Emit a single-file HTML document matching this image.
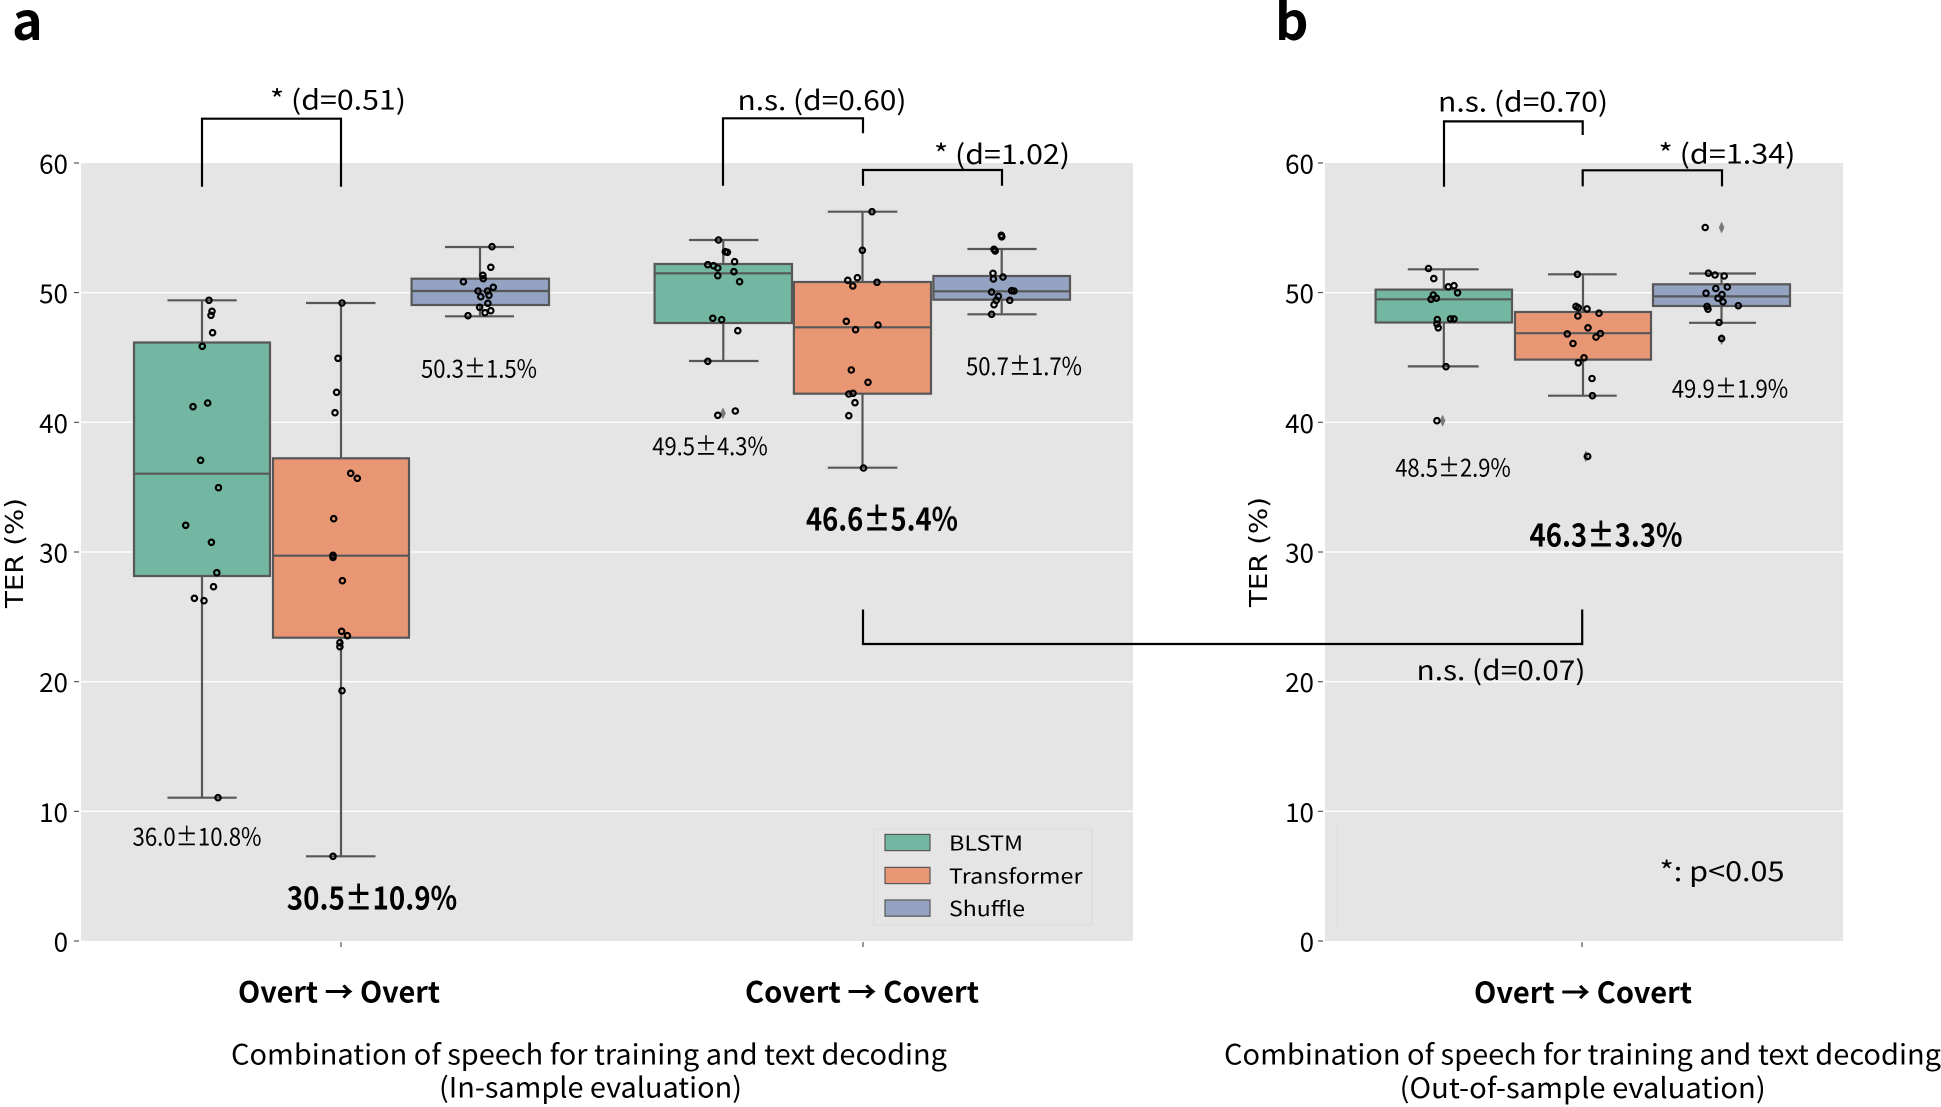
<!DOCTYPE html>
<html><head><meta charset="utf-8"><style>
html,body{margin:0;padding:0;background:#fff;}
svg{display:block;}
text{font-family:"Noto Sans CJK JP","Liberation Sans",sans-serif;fill:#000;}
.b{font-weight:700;}
</style></head><body>
<svg width="1941" height="1107" viewBox="0 0 1941 1107" xmlns="http://www.w3.org/2000/svg">
<!-- panel backgrounds -->
<rect x="81" y="163" width="1052" height="778" fill="#e5e5e5"/>
<rect x="1325" y="163" width="518" height="778" fill="#e5e5e5"/>
<!-- grid -->
<g stroke="#ffffff" stroke-width="1.3">
<line x1="81" x2="1133" y1="292.6" y2="292.6"/><line x1="81" x2="1133" y1="422.3" y2="422.3"/>
<line x1="81" x2="1133" y1="552" y2="552"/><line x1="81" x2="1133" y1="681.7" y2="681.7"/>
<line x1="81" x2="1133" y1="811.3" y2="811.3"/>
<line x1="1325" x2="1843" y1="292.6" y2="292.6"/><line x1="1325" x2="1843" y1="422.3" y2="422.3"/>
<line x1="1325" x2="1843" y1="552" y2="552"/><line x1="1325" x2="1843" y1="681.7" y2="681.7"/>
<line x1="1325" x2="1843" y1="811.3" y2="811.3"/>
</g>
<!-- ticks -->
<g stroke="#333" stroke-width="1">
<line x1="74" x2="79" y1="163" y2="163"/><line x1="74" x2="79" y1="292.6" y2="292.6"/><line x1="74" x2="79" y1="422.3" y2="422.3"/>
<line x1="74" x2="79" y1="552" y2="552"/><line x1="74" x2="79" y1="681.7" y2="681.7"/><line x1="74" x2="79" y1="811.3" y2="811.3"/><line x1="74" x2="79" y1="941" y2="941"/>
<line x1="1318" x2="1323" y1="163" y2="163"/><line x1="1318" x2="1323" y1="292.6" y2="292.6"/><line x1="1318" x2="1323" y1="422.3" y2="422.3"/>
<line x1="1318" x2="1323" y1="552" y2="552"/><line x1="1318" x2="1323" y1="681.7" y2="681.7"/><line x1="1318" x2="1323" y1="811.3" y2="811.3"/><line x1="1318" x2="1323" y1="941" y2="941"/>
<line x1="341" x2="341" y1="942" y2="947"/><line x1="863" x2="863" y1="942" y2="947"/><line x1="1582" x2="1582" y1="942" y2="947"/>
</g>
<g font-size="26" text-anchor="end">
<text x="68" y="173.5">60</text><text x="68" y="303">50</text><text x="68" y="432.8">40</text><text x="68" y="562.5">30</text><text x="68" y="692.2">20</text><text x="68" y="821.8">10</text><text x="68" y="951.5">0</text>
<text x="1314" y="173.5">60</text><text x="1314" y="303">50</text><text x="1314" y="432.8">40</text><text x="1314" y="562.5">30</text><text x="1314" y="692.2">20</text><text x="1314" y="821.8">10</text><text x="1314" y="951.5">0</text>
</g>
<!-- y labels -->
<text transform="translate(23,553) rotate(-90)" text-anchor="middle" font-size="25" textLength="110" lengthAdjust="spacingAndGlyphs" style="font-family:'DejaVu Sans',sans-serif">TER (%)</text>
<text transform="translate(1267,552) rotate(-90)" text-anchor="middle" font-size="25" textLength="110" lengthAdjust="spacingAndGlyphs" style="font-family:'DejaVu Sans',sans-serif">TER (%)</text>

<!-- boxes -->
<g stroke="#575757" stroke-width="2.2">
<line x1="202" x2="202" y1="300.3" y2="342.5"/><line x1="202" x2="202" y1="576" y2="797.7"/>
<line x1="167.5" x2="236.7" y1="300.3" y2="300.3"/><line x1="167.5" x2="236.7" y1="797.7" y2="797.7"/>
<rect x="134" y="342.5" width="136" height="233.5" fill="#73b6a1"/><line x1="134" x2="270" y1="473.7" y2="473.7"/>
<line x1="341" x2="341" y1="303" y2="458.3"/><line x1="341" x2="341" y1="637.7" y2="856.3"/>
<line x1="306" x2="375.5" y1="303" y2="303"/><line x1="306" x2="375.5" y1="856.3" y2="856.3"/>
<rect x="273" y="458.3" width="136" height="179.4" fill="#e99675"/><line x1="273" x2="409" y1="555.7" y2="555.7"/>
<line x1="480" x2="480" y1="247" y2="278.7"/><line x1="480" x2="480" y1="305" y2="316.3"/>
<line x1="445" x2="514" y1="247" y2="247"/><line x1="445" x2="514" y1="316.3" y2="316.3"/>
<rect x="411.6" y="278.7" width="137.4" height="26.3" fill="#95a3c3"/><line x1="411.6" x2="549" y1="291" y2="291"/>
<line x1="723.3" x2="723.3" y1="240" y2="264"/><line x1="723.3" x2="723.3" y1="323" y2="361"/>
<line x1="689" x2="758.5" y1="240" y2="240"/><line x1="689" x2="758.5" y1="361" y2="361"/>
<rect x="654.6" y="264" width="137.4" height="59" fill="#73b6a1"/><line x1="654.6" x2="792" y1="273.3" y2="273.3"/>
<line x1="862.5" x2="862.5" y1="211.7" y2="282"/><line x1="862.5" x2="862.5" y1="393.7" y2="467.7"/>
<line x1="827.8" x2="897.4" y1="211.7" y2="211.7"/><line x1="827.8" x2="897.4" y1="467.7" y2="467.7"/>
<rect x="793.9" y="282" width="137.1" height="111.7" fill="#e99675"/><line x1="793.9" x2="931" y1="327.3" y2="327.3"/>
<line x1="1001.7" x2="1001.7" y1="249" y2="276"/><line x1="1001.7" x2="1001.7" y1="299.7" y2="314.3"/>
<line x1="967.4" x2="1036.6" y1="249" y2="249"/><line x1="967.4" x2="1036.6" y1="314.3" y2="314.3"/>
<rect x="933.4" y="276" width="136.6" height="23.7" fill="#95a3c3"/><line x1="933.4" x2="1070" y1="291.3" y2="291.3"/>
<line x1="1443.8" x2="1443.8" y1="269.3" y2="289.6"/><line x1="1443.8" x2="1443.8" y1="322.5" y2="366.4"/>
<line x1="1407.8" x2="1478.7" y1="269.3" y2="269.3"/><line x1="1407.8" x2="1478.7" y1="366.4" y2="366.4"/>
<rect x="1375.6" y="289.6" width="136.4" height="32.9" fill="#73b6a1"/><line x1="1375.6" x2="1512" y1="299.3" y2="299.3"/>
<line x1="1583" x2="1583" y1="274.3" y2="312"/><line x1="1583" x2="1583" y1="359.6" y2="395.7"/>
<line x1="1548" x2="1616.7" y1="274.3" y2="274.3"/><line x1="1548" x2="1616.7" y1="395.7" y2="395.7"/>
<rect x="1515" y="312" width="136" height="47.6" fill="#e99675"/><line x1="1515" x2="1651" y1="333.2" y2="333.2"/>
<line x1="1721.5" x2="1721.5" y1="273.5" y2="284.3"/><line x1="1721.5" x2="1721.5" y1="306" y2="322.8"/>
<line x1="1689" x2="1756" y1="273.5" y2="273.5"/><line x1="1689" x2="1756" y1="322.8" y2="322.8"/>
<rect x="1653" y="284.3" width="137" height="21.7" fill="#95a3c3"/><line x1="1653" x2="1790" y1="296.4" y2="296.4"/>
</g>
<!-- outlier diamonds -->
<g fill="#7a7a7a">
<path d="M723,407.3 L725.8,413.3 L723,419.3 L720.2,413.3Z"/>
<path d="M1442.6,414.7 L1445.4,420.7 L1442.6,426.7 L1439.8,420.7Z"/>
<path d="M1585.8,450.4 L1588.6,456.4 L1585.8,462.4 L1583,456.4Z"/>
<path d="M1721.6,221.5 L1724.4,227.5 L1721.6,233.5 L1718.8,227.5Z"/>
<path d="M1721.6,333.2 L1724.4,339.2 L1721.6,345.2 L1718.8,339.2Z"/>
</g>
<!-- points -->
<g fill="none" stroke="#000" stroke-width="2.2">
<circle cx="209" cy="300.3" r="2.7"/><circle cx="212" cy="311.3" r="2.7"/><circle cx="211" cy="315.3" r="2.7"/><circle cx="212.6" cy="332.7" r="2.7"/><circle cx="202.3" cy="346.3" r="2.7"/><circle cx="193" cy="406.7" r="2.7"/><circle cx="207.7" cy="403" r="2.7"/><circle cx="200.6" cy="460.3" r="2.7"/><circle cx="218.5" cy="487.7" r="2.7"/><circle cx="185.7" cy="525.3" r="2.7"/><circle cx="211.4" cy="542.3" r="2.7"/><circle cx="216.8" cy="572.7" r="2.7"/><circle cx="213.5" cy="586.7" r="2.7"/><circle cx="194.4" cy="598.3" r="2.7"/><circle cx="204" cy="600.7" r="2.7"/><circle cx="218" cy="797.7" r="2.7"/>
<circle cx="342" cy="303" r="2.7"/><circle cx="338" cy="358.3" r="2.7"/><circle cx="336.6" cy="392.3" r="2.7"/><circle cx="335" cy="412.7" r="2.7"/><circle cx="350.7" cy="473.3" r="2.7"/><circle cx="357.3" cy="478.3" r="2.7"/><circle cx="333.7" cy="518.7" r="2.7"/><circle cx="333" cy="555.3" r="2.7"/><circle cx="333" cy="557.5" r="2.7"/><circle cx="342.4" cy="580.7" r="2.7"/><circle cx="341.6" cy="631.3" r="2.7"/><circle cx="347.4" cy="635.7" r="2.7"/><circle cx="339.9" cy="642.7" r="2.7"/><circle cx="339.9" cy="646.7" r="2.7"/><circle cx="342" cy="690.7" r="2.7"/><circle cx="333" cy="856.3" r="2.7"/>
<circle cx="492" cy="246.7" r="2.7"/><circle cx="490.8" cy="267.3" r="2.7"/><circle cx="482.9" cy="275.3" r="2.7"/><circle cx="483.3" cy="278.7" r="2.7"/><circle cx="463.4" cy="281.7" r="2.7"/><circle cx="493.3" cy="287.3" r="2.7"/><circle cx="478" cy="291" r="2.7"/><circle cx="487.5" cy="291" r="2.7"/><circle cx="489" cy="295.3" r="2.7"/><circle cx="480.8" cy="296.7" r="2.7"/><circle cx="487.9" cy="303.3" r="2.7"/><circle cx="479.6" cy="307.3" r="2.7"/><circle cx="490.8" cy="310.7" r="2.7"/><circle cx="485" cy="312.7" r="2.7"/><circle cx="468" cy="315.7" r="2.7"/>
<circle cx="718.5" cy="240" r="2.7"/><circle cx="725.3" cy="251.7" r="2.7"/><circle cx="727.4" cy="252.3" r="2.7"/><circle cx="734.6" cy="261.7" r="2.7"/><circle cx="707.8" cy="264.7" r="2.7"/><circle cx="713.5" cy="265.7" r="2.7"/><circle cx="717.8" cy="268" r="2.7"/><circle cx="733.9" cy="271.7" r="2.7"/><circle cx="717.8" cy="275.7" r="2.7"/><circle cx="739.6" cy="281.7" r="2.7"/><circle cx="712.8" cy="318.3" r="2.7"/><circle cx="721.7" cy="319.7" r="2.7"/><circle cx="737.8" cy="330.7" r="2.7"/><circle cx="707.8" cy="361.3" r="2.7"/><circle cx="717.8" cy="415.3" r="2.7"/><circle cx="735.3" cy="411" r="2.7"/>
<circle cx="872" cy="211.7" r="2.7"/><circle cx="862.4" cy="250.3" r="2.7"/><circle cx="847.8" cy="280.3" r="2.7"/><circle cx="857.4" cy="277.7" r="2.7"/><circle cx="852.8" cy="286" r="2.7"/><circle cx="877" cy="282.3" r="2.7"/><circle cx="846.3" cy="321.3" r="2.7"/><circle cx="878" cy="325" r="2.7"/><circle cx="855.6" cy="329.7" r="2.7"/><circle cx="851.3" cy="370" r="2.7"/><circle cx="868" cy="382.3" r="2.7"/><circle cx="848.8" cy="394" r="2.7"/><circle cx="853" cy="393.3" r="2.7"/><circle cx="855" cy="402.7" r="2.7"/><circle cx="848.8" cy="415.7" r="2.7"/><circle cx="863.5" cy="468" r="2.7"/>
<circle cx="1001.3" cy="235.3" r="2.7"/><circle cx="1001.8" cy="236.8" r="2.7"/><circle cx="994" cy="249.3" r="2.7"/><circle cx="995.2" cy="251" r="2.7"/><circle cx="993" cy="273.3" r="2.7"/><circle cx="1003" cy="277" r="2.7"/><circle cx="993.4" cy="279" r="2.7"/><circle cx="1011.6" cy="290.7" r="2.7"/><circle cx="1014" cy="291" r="2.7"/><circle cx="991.6" cy="292" r="2.7"/><circle cx="998.4" cy="296.3" r="2.7"/><circle cx="1009.8" cy="300.3" r="2.7"/><circle cx="996.3" cy="300.3" r="2.7"/><circle cx="994" cy="304.7" r="2.7"/><circle cx="991.6" cy="314.3" r="2.7"/>
<circle cx="1428.5" cy="268.5" r="2.7"/><circle cx="1433.8" cy="278.6" r="2.7"/><circle cx="1448.3" cy="286.8" r="2.7"/><circle cx="1454" cy="285.7" r="2.7"/><circle cx="1457.6" cy="292.8" r="2.7"/><circle cx="1433.3" cy="295" r="2.7"/><circle cx="1431" cy="299.3" r="2.7"/><circle cx="1436.4" cy="298.2" r="2.7"/><circle cx="1437.3" cy="319.6" r="2.7"/><circle cx="1450.5" cy="318.9" r="2.7"/><circle cx="1454" cy="318.9" r="2.7"/><circle cx="1438.2" cy="327.8" r="2.7"/><circle cx="1437" cy="324" r="2.7"/><circle cx="1446" cy="366.7" r="2.7"/><circle cx="1436.9" cy="420.7" r="2.7"/>
<circle cx="1577.4" cy="274.3" r="2.7"/><circle cx="1576" cy="306.4" r="2.7"/><circle cx="1578.3" cy="307.8" r="2.7"/><circle cx="1587" cy="308.9" r="2.7"/><circle cx="1577.9" cy="316" r="2.7"/><circle cx="1599" cy="313.2" r="2.7"/><circle cx="1588" cy="327.8" r="2.7"/><circle cx="1567.3" cy="333.9" r="2.7"/><circle cx="1600.4" cy="333.5" r="2.7"/><circle cx="1596" cy="337.1" r="2.7"/><circle cx="1573" cy="343.5" r="2.7"/><circle cx="1584" cy="357.8" r="2.7"/><circle cx="1578.3" cy="362.8" r="2.7"/><circle cx="1592" cy="378.5" r="2.7"/><circle cx="1592.4" cy="395.7" r="2.7"/><circle cx="1587.7" cy="456.4" r="2.7"/>
<circle cx="1705.2" cy="227.5" r="2.7"/><circle cx="1708.4" cy="273.2" r="2.7"/><circle cx="1715" cy="275" r="2.7"/><circle cx="1724.2" cy="276" r="2.7"/><circle cx="1727.3" cy="287" r="2.7"/><circle cx="1715.8" cy="288.5" r="2.7"/><circle cx="1706" cy="293.2" r="2.7"/><circle cx="1722" cy="294.6" r="2.7"/><circle cx="1718" cy="298.2" r="2.7"/><circle cx="1723" cy="301.8" r="2.7"/><circle cx="1738.3" cy="305.7" r="2.7"/><circle cx="1707" cy="306.4" r="2.7"/><circle cx="1708" cy="309.2" r="2.7"/><circle cx="1719" cy="322.5" r="2.7"/><circle cx="1721.6" cy="338.5" r="2.7"/>
</g>
<!-- brackets -->
<g fill="none" stroke="#000" stroke-width="2.2">
<polyline points="202,186.7 202,118.7 341,118.7 341,186.7"/>
<polyline points="723,185.7 723,118.3 863,118.3 863,133.3"/>
<polyline points="863,185.7 863,170 1002,170 1002,185.7"/>
<polyline points="1444,186.8 1444,121.4 1582.7,121.4 1582.7,135"/>
<polyline points="1582.7,186.4 1582.7,170.3 1722,170.3 1722,186.4"/>
<polyline points="863,609.5 863,644 1582.2,644 1582.2,609.5"/>
</g>
<!-- annotation text -->
<g font-size="27" text-anchor="middle">
<text x="338" y="109.3" textLength="136" lengthAdjust="spacingAndGlyphs">* (d=0.51)</text>
<text x="822" y="110" textLength="169" lengthAdjust="spacingAndGlyphs">n.s. (d=0.60)</text>
<text x="1002" y="164" textLength="136" lengthAdjust="spacingAndGlyphs">* (d=1.02)</text>
<text x="1523" y="111.4" textLength="170" lengthAdjust="spacingAndGlyphs">n.s. (d=0.70)</text>
<text x="1727" y="163.6" textLength="137" lengthAdjust="spacingAndGlyphs">* (d=1.34)</text>
<text x="1501" y="679.8" textLength="169" lengthAdjust="spacingAndGlyphs">n.s. (d=0.07)</text>
<text x="1722" y="880.8" textLength="125" lengthAdjust="spacingAndGlyphs">*: p&lt;0.05</text>
</g>
<g font-size="24.5" text-anchor="middle">
<text x="479" y="377.3" textLength="116" lengthAdjust="spacingAndGlyphs">50.3±1.5%</text>
<text x="197" y="845.7" textLength="129" lengthAdjust="spacingAndGlyphs">36.0±10.8%</text>
<text x="710" y="455" textLength="115.5" lengthAdjust="spacingAndGlyphs">49.5±4.3%</text>
<text x="1024" y="375" textLength="116" lengthAdjust="spacingAndGlyphs">50.7±1.7%</text>
<text x="1453" y="476.7" textLength="115.6" lengthAdjust="spacingAndGlyphs">48.5±2.9%</text>
<text x="1730" y="397.5" textLength="116.5" lengthAdjust="spacingAndGlyphs">49.9±1.9%</text>
</g>
<g font-size="32" text-anchor="middle">
<text class="b" x="372" y="909.3" textLength="170.5" lengthAdjust="spacingAndGlyphs">30.5±10.9%</text>
<text class="b" x="882" y="530.7" textLength="152" lengthAdjust="spacingAndGlyphs">46.6±5.4%</text>
<text class="b" x="1606" y="546.4" textLength="153" lengthAdjust="spacingAndGlyphs">46.3±3.3%</text>
</g>
<!-- legend -->
<rect x="873.7" y="829" width="218" height="96" fill="#e5e5e5" stroke="#dadada" stroke-width="1"/>
<line x1="1337" x2="1337" y1="826" y2="926" stroke="#dcdcdc" stroke-width="1"/>
<g stroke="#575757" stroke-width="1.2">
<rect x="885" y="834.4" width="45" height="16.2" fill="#73b6a1"/>
<rect x="885" y="867.4" width="45" height="16.2" fill="#e99675"/>
<rect x="885" y="900" width="45" height="16.2" fill="#95a3c3"/>
</g>
<g font-size="20.5">
<text x="949" y="850.5" textLength="74" lengthAdjust="spacingAndGlyphs">BLSTM</text>
<text x="949" y="883.5" textLength="133.5" lengthAdjust="spacingAndGlyphs">Transformer</text>
<text x="949" y="916" textLength="76" lengthAdjust="spacingAndGlyphs">Shuffle</text>
</g>
<!-- x tick labels -->
<g font-size="29" text-anchor="middle">
<text class="b" x="339" y="1002.7" textLength="202" lengthAdjust="spacingAndGlyphs">Overt → Overt</text>
<text class="b" x="862" y="1002.7" textLength="234" lengthAdjust="spacingAndGlyphs">Covert → Covert</text>
<text class="b" x="1583" y="1002.8" textLength="218" lengthAdjust="spacingAndGlyphs">Overt → Covert</text>
</g>
<g font-size="28" text-anchor="middle">
<text x="589" y="1064.5" textLength="716" lengthAdjust="spacingAndGlyphs">Combination of speech for training and text decoding</text>
<text x="590.5" y="1097.5" textLength="303" lengthAdjust="spacingAndGlyphs">(In-sample evaluation)</text>
<text x="1582.5" y="1064.5" textLength="717" lengthAdjust="spacingAndGlyphs">Combination of speech for training and text decoding</text>
<text x="1582.7" y="1098" textLength="366" lengthAdjust="spacingAndGlyphs">(Out-of-sample evaluation)</text>
</g>
<!-- panel letters -->
<text class="b" x="12" y="40" font-size="52">a</text>
<text class="b" x="1275" y="40" font-size="52">b</text>
</svg>
</body></html>
